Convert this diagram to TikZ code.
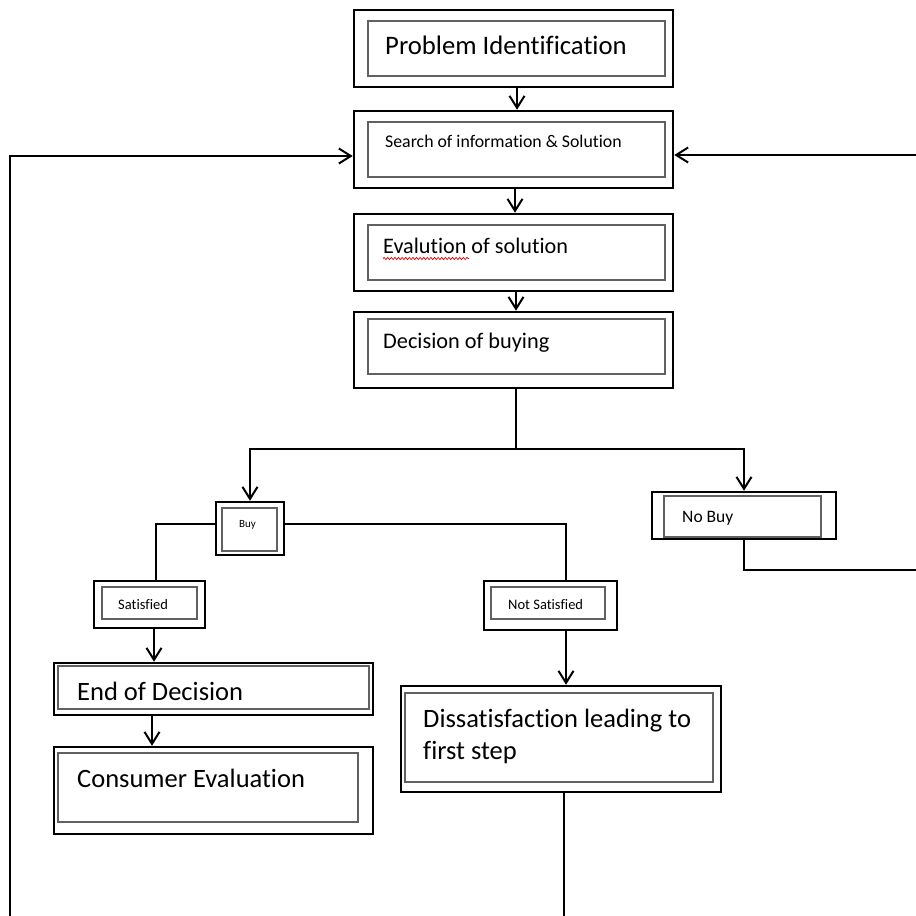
\documentclass[tikz,border=0pt]{standalone}
\usepackage{fontspec}
\setmainfont{Carlito}[Ligatures=NoCommon]
\usetikzlibrary{arrows.meta,fit,decorations.pathmorphing}
\begin{document}
\begin{tikzpicture}[x=1pt,y=-1pt,
  outerbox/.style={draw=black, line width=2.5pt, inner sep=0pt, fill=white},
  innerbox/.style={draw=black!62, line width=1.2pt, inner sep=0pt},
  txt/.style={inner sep=0pt, anchor=base west, text=black},
  line/.style={line width=2pt, draw=black},
  arr/.style={line, -{Straight Barb[length=12pt,width=15pt,line width=2pt]}},
  squiggle/.style={draw=red!85!black, line width=0.7pt, decorate,
    decoration={snake, amplitude=1.1pt, segment length=3.6pt}},
]
\clip (0,0) rectangle (916,916);
\fill[white] (0,0) rectangle (916,916);

% Problem Identification
\node[outerbox, fit={(354,10) (673,87)}] (pi) {};
\node[innerbox, fit={(368,21) (665,76)}] (pii) {};
\node[txt, font=\fontsize{26.7}{32}\selectfont] (pit) at (385,54) {Problem Identification};

% Search
\node[outerbox, fit={(354,111) (673,188)}] (si) {};
\node[innerbox, fit={(368,122) (665,177)}] (sii) {};
\node[txt, font=\fontsize{17.8}{21}\selectfont] (sit) at (385,147) {Search of information \& Solution};

% Evaluation
\node[outerbox, fit={(354,214) (673,291)}] (ev) {};
\node[innerbox, fit={(368,225) (665,280)}] (evi) {};
\node[txt, font=\fontsize{22.2}{27}\selectfont] (evt) at (383,253) {Evalution of solution};
\draw[squiggle] (383,258.5) -- (469,258.5);

% Decision
\node[outerbox, fit={(354,312) (673,388)}] (db) {};
\node[innerbox, fit={(368,319) (665,374)}] (dbi) {};
\node[txt, font=\fontsize{22.3}{27}\selectfont] (dbt) at (383,348) {Decision of buying};

% Buy
\node[outerbox, fit={(216,502) (284,555)}] (buy) {};
\node[innerbox, fit={(222,508) (277,551)}] (buyi) {};
\node[txt, font=\fontsize{11}{13}\selectfont] (buyt) at (239,527) {Buy};

% No Buy
\node[outerbox, fit={(652,492) (836,539)}] (nobuy) {};
\node[innerbox, fit={(664,496) (821,537)}] (nobuyi) {};
\node[txt, font=\fontsize{17.5}{21}\selectfont] (nobuyt) at (682,522) {No Buy};

% Satisfied
\node[outerbox, fit={(94,581) (205,628)}] (sat) {};
\node[innerbox, fit={(102,587) (197,619)}] (sati) {};
\node[txt, font=\fontsize{14.5}{17}\selectfont] (satt) at (118,609) {Satisfied};

% Not Satisfied
\node[outerbox, fit={(484,581) (617,630)}] (nsat) {};
\node[innerbox, fit={(491,587) (605,619)}] (nsati) {};
\node[txt, font=\fontsize{14.5}{17}\selectfont] (nsatt) at (508,609) {Not Satisfied};

% End of Decision
\node[outerbox, fit={(54,663) (373,715)}] (end) {};
\node[innerbox, fit={(58,666) (369,709)}] (endi) {};
\node[txt, font=\fontsize{26.5}{32}\selectfont] (endt) at (77,700) {End of Decision};

% Consumer Evaluation
\node[outerbox, fit={(54,747) (373,834)}] (ce) {};
\node[innerbox, fit={(58,753) (358,822)}] (cei) {};
\node[txt, font=\fontsize{26.5}{32}\selectfont] (cet) at (77,787) {Consumer Evaluation};

% Dissatisfaction
\node[outerbox, fit={(401,686) (721,792)}] (dis) {};
\node[innerbox, fit={(405,693) (713,782)}] (disi) {};
\node[txt, font=\fontsize{26.5}{32}\selectfont, align=left] (dist) at (423,759) {Dissatisfaction leading to\\first step};

% helper coordinates
\coordinate (c517) at (517,0);
\coordinate (c515) at (515,0);
\coordinate (c516) at (516,0);
\coordinate (c154) at (154,0);
\coordinate (c152) at (152,0);
\coordinate (c564) at (564,0);
\coordinate (j) at (516,449);
\coordinate (bl) at (156,524);
\coordinate (br) at (566,524);
\coordinate (lb) at (10,935);
\coordinate (lt) at (10,156);
\coordinate (rb) at (935,570);
\coordinate (rt) at (935,155);

% connectors
\draw[arr] (pi.south -| c517) -- (si.north -| c517);
\draw[arr] (si.south -| c515) -- (ev.north -| c515);
\draw[arr] (ev.south -| c516) -- (db.north -| c516);
\draw[line] (db.south -| j) -- (j);
\draw[arr] (j) -| (buy.north);
\draw[arr] (j) -| (nobuy.north);
\draw[line] (buy.west |- bl) -- (bl) -- (sat.north -| bl);
\draw[line] (buy.east |- br) -- (br) -- (nsat.north -| br);
\draw[arr] (sat.south -| c154) -- (end.north -| c154);
\draw[arr] (end.south -| c152) -- (ce.north -| c152);
\draw[arr] (nsat.south -| br) -- (dis.north -| br);
\draw[arr] (dis.south -| c564) -- (c564 |- lb) -- (lb) -- (lt) -- (si.west |- lt);
\draw[arr] (nobuy.south) -- (nobuy.south |- rb) -- (rb) -- (rt) -- (si.east |- rt);
\end{tikzpicture}
\end{document}
